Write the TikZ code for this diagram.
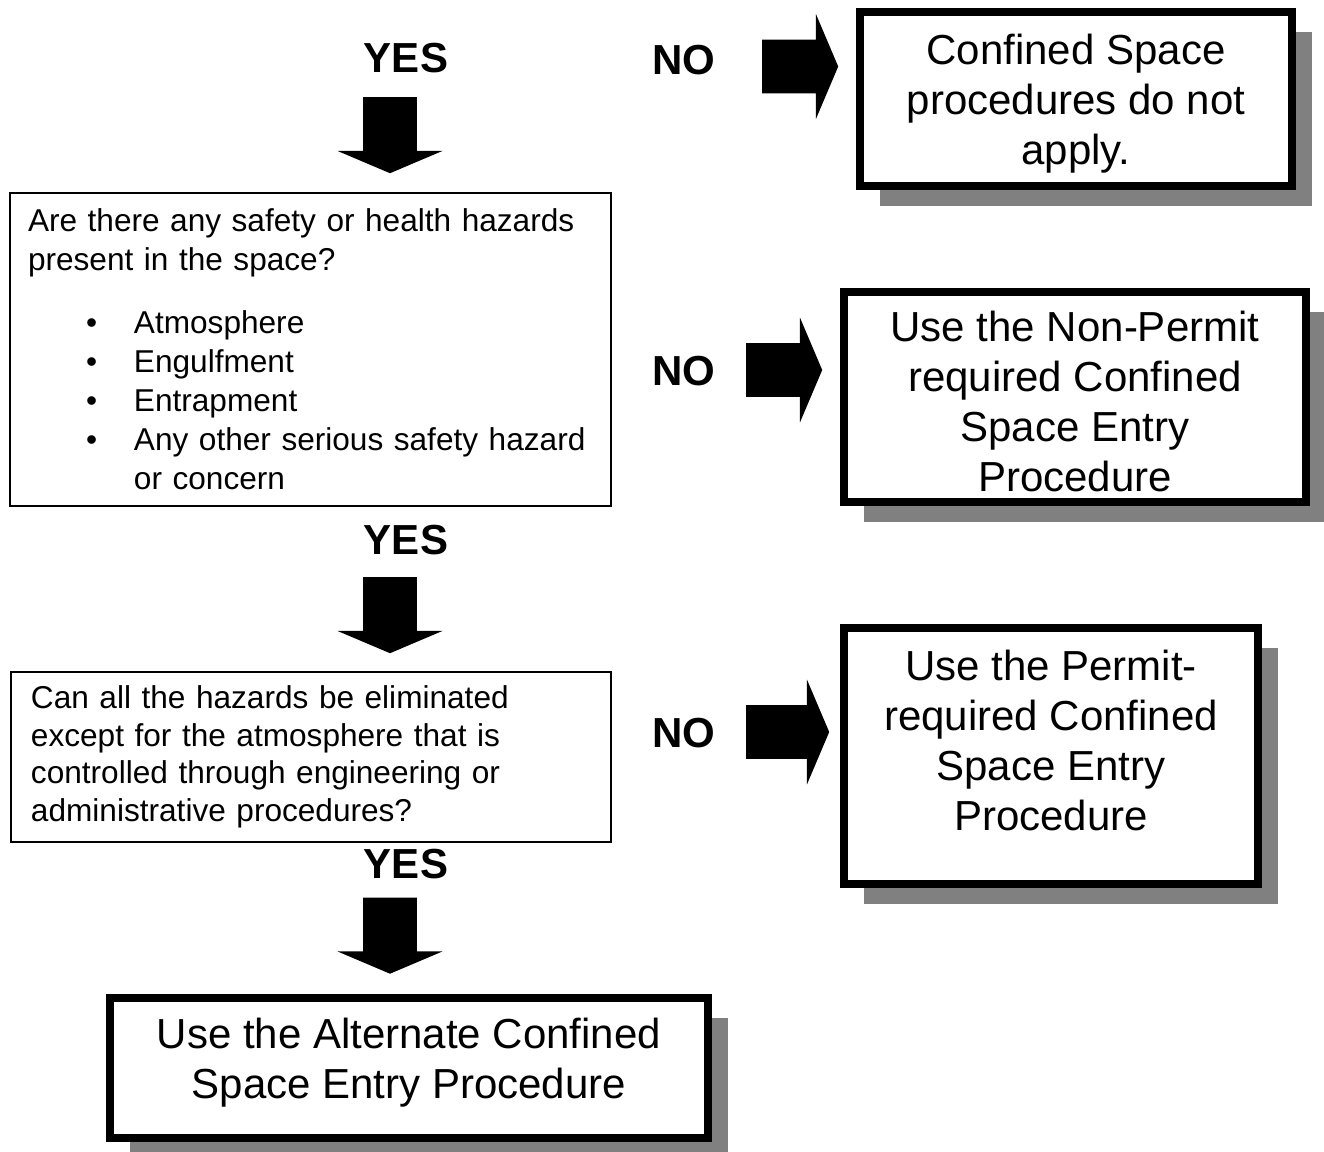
\documentclass[tikz,border=0pt]{standalone}
\usepackage{fontspec}
\setmainfont{Liberation Sans}
\usetikzlibrary{shapes.arrows,shadows,positioning}

\begin{document}
\begin{tikzpicture}[x=0.5pt,y=-0.5pt,
    resultbox/.style 2 args={draw,line width=4pt,fill=white,inner sep=0pt,
      minimum width=#1,minimum height=#2,
      drop shadow={shadow xshift=10pt,shadow yshift=-10pt,fill=black!50,opacity=1}},
    resulttext/.style={align=center,inner sep=0pt,font=\fontsize{21}{25}\selectfont},
    questionbox/.style={draw,line width=1.2pt,align=left,inner ysep=0pt},
    answer/.style={inner sep=0pt,font=\bfseries\fontsize{21}{25}\selectfont},
    blockarrow/.style={single arrow,fill=black,draw=none,inner sep=13.25pt,
      single arrow head extend=12.75pt,single arrow tip angle=134,
      single arrow head indent=0pt,minimum height=38pt}]
  \useasboundingbox (0,0) rectangle (1324,1152);
  % bullet item of the first question
  \newcommand{\hazitem}[1]{\makebox[53pt][l]{\hspace{29pt}\textbullet}#1}

  % questions on the left
  \node[questionbox,inner xsep=9pt,text width=282.5pt,minimum height=156.5pt,
    font=\fontsize{15.8}{19.5}\selectfont] (hazards) at (310.5,349.5)
    {Are there any safety or health hazards\\present in the space?\\[12pt]
     \hazitem{Atmosphere}\\\hazitem{Engulfment}\\\hazitem{Entrapment}\\
     \hazitem{Any other serious safety hazard}\\\hspace*{53pt}or concern};
  \node[questionbox,inner xsep=10pt,text width=280pt,minimum height=85pt,
    font=\fontsize{15.8}{18.75}\selectfont] (eliminate) at (311,757)
    {Can all the hazards be eliminated\\except for the atmosphere that is\\
     controlled through engineering or\\administrative procedures?};

  % outcomes
  \node[resultbox={216pt}{87pt}] (noapply) at (1076,99) {};
  \node[resulttext] (noapplytext) at (1076,104)
    {Confined Space\\procedures do not\\apply.};
  \node[resultbox={231pt}{105pt}] (nonpermit) at (1075,397) {};
  \node[resulttext] (nonpermittext) at (1075,401)
    {Use the Non-Permit\\required Confined\\Space Entry\\Procedure};
  \node[resultbox={207pt}{128pt}] (permit) at (1051,756) {};
  \node[resulttext] (permittext) at (1051,740)
    {Use the Permit-\\required Confined\\Space Entry\\Procedure};
  \node[resultbox={299pt}{70pt}] (alternate) at (409,1068) {};
  \node[resulttext] (alternatetext) at (409,1063)
    {Use the Alternate Confined\\Space Entry Procedure};

  % answers
  \node[answer] (yesa) at (406,58) {YES};
  \node[answer] (yesb) at (406,540) {YES};
  \node[answer] (yesc) at (406,864) {YES};
  \node[answer] (noa) at (684,60) {NO};
  \node[answer] (nob) at (684,371) {NO};
  \node[answer] (noc) at (684,733) {NO};

  % block arrows
  \node[blockarrow,shape border rotate=270] (downa) at (390,129.5) {};
  \node[blockarrow,shape border rotate=270] (downb) at (390,609.5) {};
  \node[blockarrow,shape border rotate=270] (downc) at (390,930) {};
  \node[blockarrow] (righta) at (794.5,66.5) {};
  \node[blockarrow] (rightb) at (778.5,370) {};
  \node[blockarrow,minimum height=41.5pt] (rightc) at (782,732) {};
\end{tikzpicture}
\end{document}
